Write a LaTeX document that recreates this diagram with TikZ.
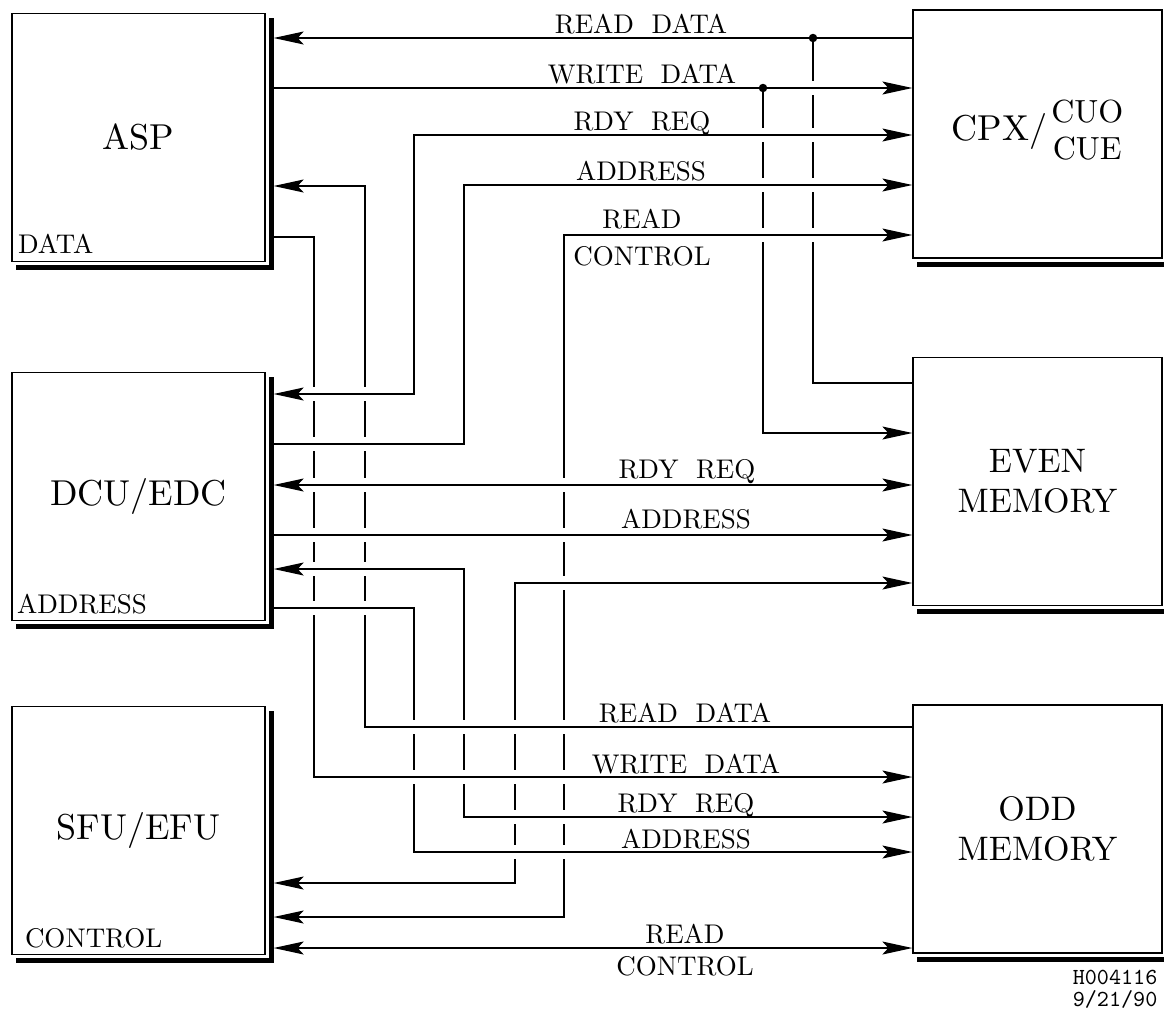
\documentclass[tikz,border=0pt]{standalone}
\usepackage{fontspec}
\setmainfont{lmroman10-regular.otf}
\setmonofont{lmmono10-regular.otf}
\usetikzlibrary{arrows.meta,calc,positioning}
\newcommand\busfont{\fontsize{27}{31}\selectfont\spaceskip=0.65em\relax}

\begin{document}
\begin{tikzpicture}[x=1pt, y=-1pt, line width=1.3pt]
  \tikzset{
    unit/.style={draw, fill=white, inner sep=0pt, minimum width=253pt, minimum height=248pt, font=\fontsize{36}{40}\selectfont},
    mem/.style={unit, minimum width=249pt, align=center, font=\fontsize{34}{40}\selectfont},
    lbl/.style={inner sep=0pt, anchor=base, font=\busfont},
    dot/.style={circle, fill, inner sep=0pt, minimum size=8.5pt},
    >={Stealth[length=30pt, width=13pt, inset=6pt]}
  }
  \useasboundingbox (0,0) rectangle (1164,1015);
  \clip (0,0) rectangle (1164,1015);

  % processors on the left
  \node[unit] (asp) at (138.5,137.5) {ASP};
  \node[unit] (dcu) at (138.5,496.5) {DCU/EDC};
  \node[unit] (sfu) at (138.5,830.5) {SFU/EFU};
  % cpx and memories on the right
  \node[mem, font=\fontsize{36}{40}\selectfont] (cpx) at (1037.5,134)
    {CPX/\hspace{4pt}{\fontsize{32}{37}\selectfont\begin{tabular}{@{}c@{}}CUO\\CUE\end{tabular}}};
  \node[mem] (even) at (1037.5,481.5) {EVEN\\MEMORY};
  \node[mem] (odd) at (1037.5,829) {ODD\\MEMORY};

  % heavy shadow on every box
  \foreach \b in {asp,dcu,sfu,cpx,even,odd}{
    \fill ($(\b.north east)+(3,5)$) rectangle ($(\b.south east)+(8,8)$);
    \fill ($(\b.south west)+(5,3)$) rectangle ($(\b.south east)+(8,8)$);
  }
  \coordinate (aspR) at ($(asp.east)+(8,0)$);
  \coordinate (dcuR) at ($(dcu.east)+(8,0)$);
  \coordinate (sfuR) at ($(sfu.east)+(8,0)$);

  \node[lbl, anchor=base west] (aspT) at ($(asp.south west)+(6,-9)$) {DATA};
  \node[lbl, anchor=base west] (dcuT) at ($(dcu.south west)+(5,-8)$) {ADDRESS};
  \node[lbl, anchor=base west] (sfuT) at ($(sfu.south west)+(13,-8)$) {CONTROL};

  % buses to cpx
  \coordinate (jR) at (813,38);
  \coordinate (jW) at (763,88);
  \draw[->] (cpx.west |- 0,38) -- (aspR |- 0,38);
  \draw[->] (aspR |- 0,88) -- (cpx.west |- 0,88);
  \draw[<->] (dcuR |- 0,394) -- (414,394) |- (cpx.west |- 0,135);
  \draw[->] (dcuR |- 0,444) -- (464,444) |- (cpx.west |- 0,185);
  \draw[<->] (sfuR |- 0,917) -- (564,917) |- (cpx.west |- 0,235);
  % buses to even memory
  \draw (even.west |- 0,383) -| (jR);
  \draw[->] (jW) |- (even.west |- 0,433);
  \draw[<->] (dcuR |- 0,485) -- (even.west |- 0,485);
  \draw[->] (dcuR |- 0,535) -- (even.west |- 0,535);
  \draw[<->] (sfuR |- 0,883) -- (515,883) |- (even.west |- 0,583);
  % buses to odd memory
  \draw[->] (odd.west |- 0,727) -- (365,727) |- (aspR |- 0,186);
  \draw[->] (aspR |- 0,237) -- (314,237) |- (odd.west |- 0,777);
  \draw[<->] (dcuR |- 0,569) -- (464,569) |- (odd.west |- 0,817);
  \draw[->] (dcuR |- 0,608) -- (414,608) |- (odd.west |- 0,852);
  \draw[<->] (sfuR |- 0,948) -- (odd.west |- 0,948);

  % breaks where verticals pass under horizontals
  \foreach \x/\ys in {314/{394,444,485,535,569,608}, 365/{394,444,485,535,569,608},
      414/{727,777}, 464/{727,777}, 515/{727,777,817,852},
      564/{485,535,583,727,777,817,852}, 763/{135,185,235}, 813/{88,135,185,235}}
    \foreach \y in \ys {
      \fill[white] (\x-3,\y-7) rectangle (\x+3,\y+7);
      \draw (\x-4,\y) -- (\x+4,\y);
    }
  \node[dot] (dR) at (jR) {};
  \node[dot] (dW) at (jW) {};

  % bus names
  \node[lbl] (rdC) at (641,33) {READ DATA};
  \node[lbl] (wdC) at (642,83) {WRITE DATA};
  \node[lbl] (rqC) at (642,130) {RDY REQ};
  \node[lbl] (adC) at (641,180) {ADDRESS};
  \node[lbl] (rcC) at (642,228) {READ};
  \node[lbl] (rcC2) at (642,265) {CONTROL};
  \node[lbl] (rqE) at (687,478) {RDY REQ};
  \node[lbl] (adE) at (686,528) {ADDRESS};
  \node[lbl] (rdO) at (685,722) {READ DATA};
  \node[lbl] (wdO) at (686,773) {WRITE DATA};
  \node[lbl] (rqO) at (686,812) {RDY REQ};
  \node[lbl] (adO) at (686,848) {ADDRESS};
  \node[lbl] (rcO) at (685,943) {READ};
  \node[lbl] (rcO2) at (685,975) {CONTROL};

  % drawing number
  \node[inner sep=0pt, anchor=base east, font=\ttfamily\fontsize{23}{18}\selectfont] (hid) at (1158,984) {H004116};
  \node[inner sep=0pt, anchor=base east, font=\ttfamily\fontsize{23}{18}\selectfont] (hdate) at (1158,1006) {9/21/90};
\end{tikzpicture}
\end{document}
